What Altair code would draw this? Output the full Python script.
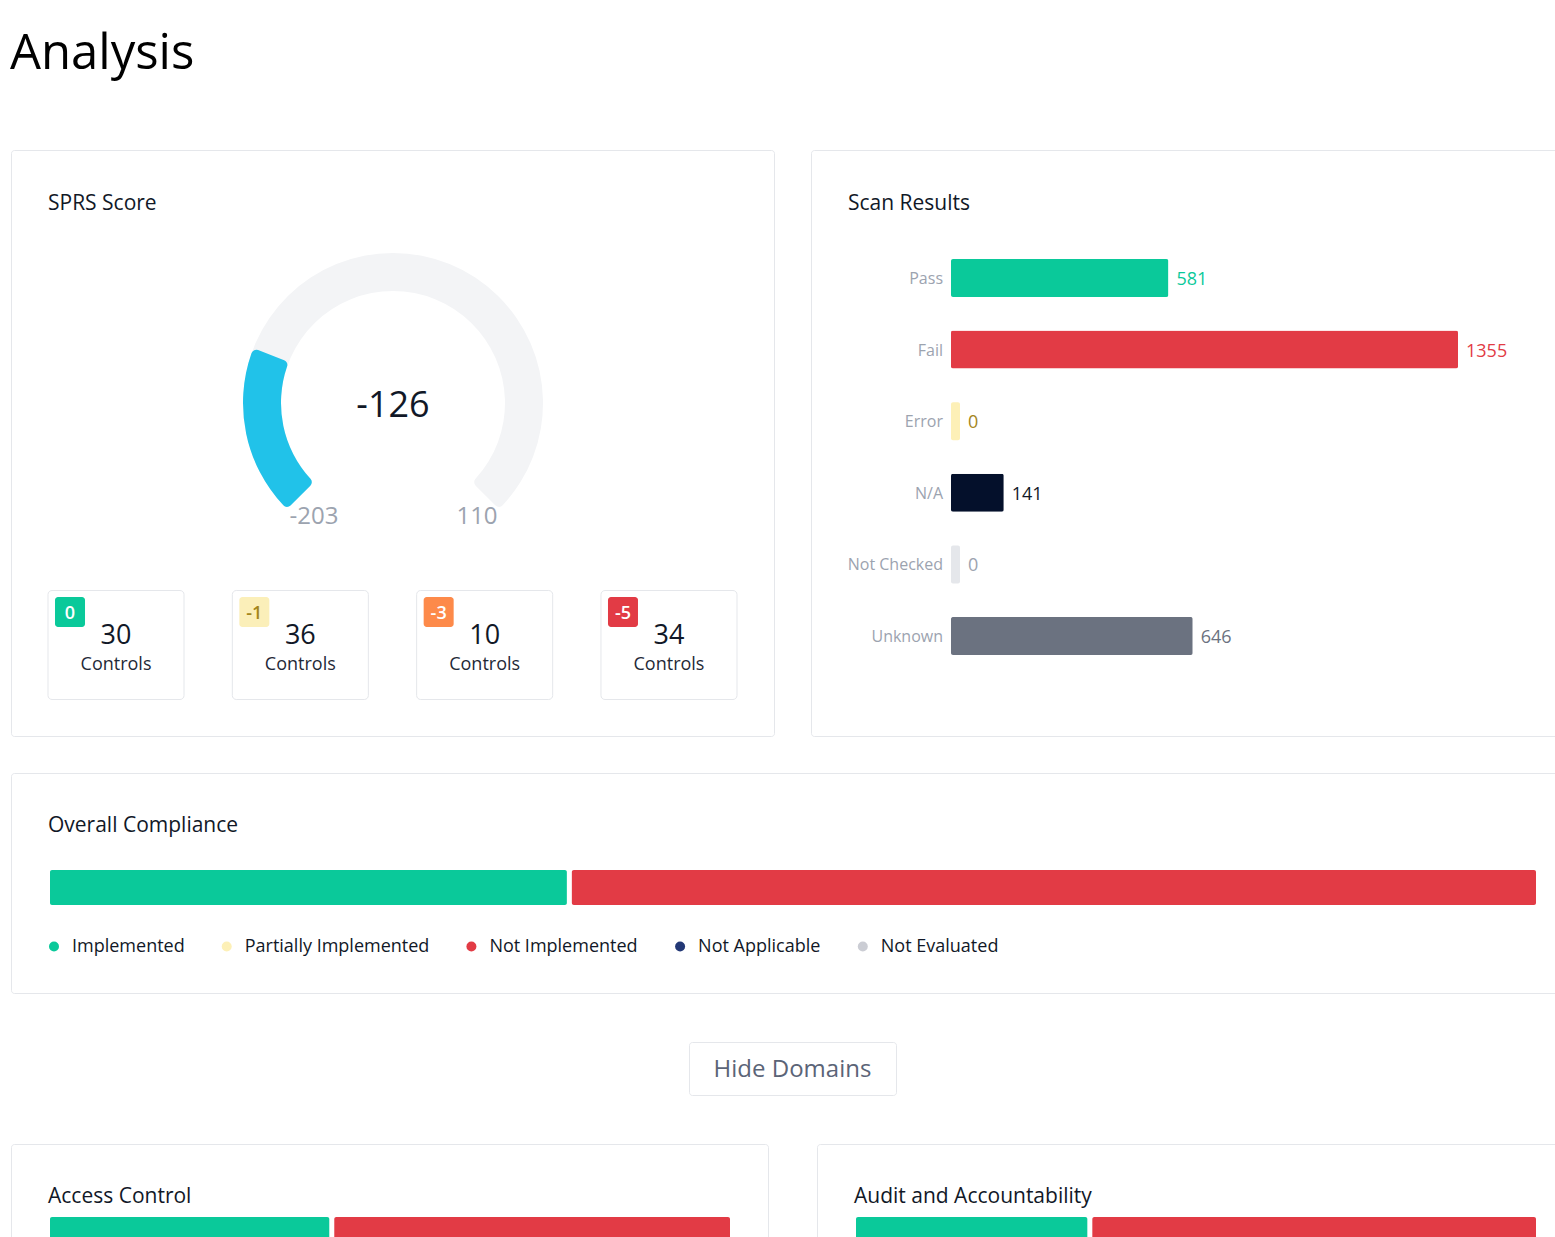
import altair as alt
import pandas as pd

FONT = "Open Sans"

# ---------------- data ----------------
page_title = ["Analysis"]
sprs_title = ["SPRS Score"]
scan_title = ["Scan Results"]
overall_title = ["Overall Compliance"]
access_title = ["Access Control"]
audit_title = ["Audit and Accountability"]
button_label = ["Hide Domains"]

gauge_min = -203
gauge_max = 110
sprs_score = -126

badges = ["0", "-1", "-3", "-5"]
control_counts = [30, 36, 10, 34]
control_unit = "Controls"

scan_categories = ["Pass", "Fail", "Error", "N/A", "Not Checked", "Unknown"]
scan_values = [581, 1355, 0, 141, 0, 646]

statuses = ["Implemented", "Partially Implemented", "Not Implemented", "Not Applicable", "Not Evaluated"]
bar_statuses = ["Implemented", "Not Implemented"]
overall_pct = [35, 65]
access_pct = [41.5, 58.5]
audit_pct = [34.5, 65.5]

# ---------------- styles ----------------
badge_fill = ["#0ac99a", "#fbefb9", "#fd8a4a", "#e23b45"]
scan_bar_colors = ["#0ac99a", "#e23b45", "#fdf0b7", "#04102b", "#e5e7eb", "#6b7280"]
scan_label_colors = ["#0ac99a", "#e23b45", "#a4861b", "#111827", "#9ca3af", "#6b7280"]
status_colors = ["#0ac99a", "#fdf0b7", "#e23b45", "#233876", "#cbcdd4"]
BORDER = "#e5e7eb"
W, H = 1555, 1237


def frame(name, x0, y0, x1, y1, radius=3):
    """Card outline (page layout box)."""
    return alt.Chart(pd.DataFrame({"card": [name]})).mark_rect(
        fill="white", stroke=BORDER, strokeWidth=1, cornerRadius=radius
    ).encode(x=alt.value(x0 + 0.5), x2=alt.value(x1 - 0.5), y=alt.value(y0 + 0.5), y2=alt.value(y1 - 0.5))


def label(texts, x, y, size=21, color="#111827", align="left", weight="normal"):
    return alt.Chart(pd.DataFrame({"t": texts})).mark_text(
        align=align, baseline="alphabetic", fontSize=size, color=color, font=FONT, fontWeight=weight
    ).encode(x=alt.value(x), y=alt.value(y), text="t:N")


layers = []

# ---------------- header ----------------
layers.append(label(page_title, 10, 69, size=49, color="#000000"))

# ---------------- SPRS card ----------------
layers.append(frame("sprs", 11, 150, 775, 737))
layers.append(label(sprs_title, 48, 210))

gauge_df = pd.DataFrame({
    "lo": [gauge_min], "hi": [gauge_max], "score": [sprs_score],
    "lo_txt": [str(gauge_min)], "hi_txt": [str(gauge_max)], "score_txt": [str(sprs_score)],
})
GX, GY = 393, 403
theta_scale = alt.Scale(domain=[gauge_min, gauge_max], range=[-2.35619, 2.35619], zero=False, nice=False)
layers.append(alt.Chart(gauge_df).mark_arc(outerRadius=150, innerRadius=112, cornerRadius=5, color="#f3f4f6").encode(
    theta=alt.Theta("lo:Q", scale=theta_scale), theta2="hi:Q", x=alt.value(GX), y=alt.value(GY)))
layers.append(alt.Chart(gauge_df).mark_arc(outerRadius=150, innerRadius=112, cornerRadius=5, color="#21c2e9").encode(
    theta=alt.Theta("lo:Q", scale=theta_scale), theta2="score:Q", x=alt.value(GX), y=alt.value(GY)))
layers.append(alt.Chart(gauge_df).mark_text(fontSize=24, color="#9ca3af", baseline="alphabetic", font=FONT).encode(
    x=alt.value(314), y=alt.value(524), text="lo_txt:N"))
layers.append(alt.Chart(gauge_df).mark_text(fontSize=24, color="#9ca3af", baseline="alphabetic", font=FONT).encode(
    x=alt.value(477), y=alt.value(524), text="hi_txt:N"))
layers.append(alt.Chart(gauge_df).mark_text(fontSize=36, color="#111827", baseline="alphabetic", font=FONT).encode(
    x=alt.value(393), y=alt.value(417), text="score_txt:N"))

ctrl_df = pd.DataFrame({
    "badge": badges,
    "count_txt": [str(c) for c in control_counts],
    "unit": [control_unit] * len(badges),
})
x_band = alt.X("badge:N", scale=alt.Scale(type="band", domain=badges, range=[48, 737], paddingInner=0.262, paddingOuter=0),
               axis=None)
layers.append(alt.Chart(ctrl_df).mark_rect(fill="white", stroke=BORDER, strokeWidth=1, cornerRadius=4).encode(
    x=x_band, y=alt.value(590.5), y2=alt.value(699.5)))
layers.append(alt.Chart(ctrl_df).mark_bar(width=30, xOffset=-46, cornerRadius=3).encode(
    x=x_band, y=alt.value(597), y2=alt.value(627),
    color=alt.Color("badge:N", scale=alt.Scale(domain=badges, range=badge_fill), legend=None)))
layers.append(alt.Chart(ctrl_df).mark_text(fontSize=18, fontWeight=600, xOffset=-46, baseline="alphabetic", font=FONT).encode(
    x=x_band, y=alt.value(619), text="badge:N",
    color=alt.condition(alt.datum.badge == "-1", alt.value("#a4861b"), alt.value("#ffffff"))))
layers.append(alt.Chart(ctrl_df).mark_text(fontSize=27, color="#111827", baseline="alphabetic", font=FONT).encode(
    x=x_band, y=alt.value(644), text="count_txt:N"))
layers.append(alt.Chart(ctrl_df).mark_text(fontSize=18, color="#1f2937", baseline="alphabetic", font=FONT).encode(
    x=x_band, y=alt.value(670), text="unit:N"))

# ---------------- Scan results card ----------------
layers.append(frame("scan", 811, 150, W + 30, 737))
layers.append(label(scan_title, 848, 210))

scan_df = pd.DataFrame({"cat": scan_categories, "value": scan_values, "value_txt": [str(v) for v in scan_values]})
y_band = alt.Y("cat:N", scale=alt.Scale(type="band", domain=scan_categories, range=[259, 655], paddingInner=0.469,
                                         paddingOuter=0), axis=None)
x_lin = alt.X("value:Q", scale=alt.Scale(domain=[0, 1355], range=[951, 1458], nice=False, zero=True), axis=None)
bar_color = alt.Color("cat:N", scale=alt.Scale(domain=scan_categories, range=scan_bar_colors), legend=None)
lbl_color = alt.Color("cat:N", scale=alt.Scale(domain=scan_categories, range=scan_label_colors), legend=None)

layers.append(alt.Chart(scan_df).transform_filter("datum.value == 0").mark_rect(x2Offset=9, cornerRadius=2).encode(
    x=x_lin, x2=alt.X2("value:Q"), y=y_band, color=bar_color))
layers.append(alt.Chart(scan_df).mark_bar(cornerRadius=2).encode(x=x_lin, y=y_band, color=bar_color))
layers.append(alt.Chart(scan_df).transform_filter("datum.value > 0").mark_text(
    align="left", baseline="middle", dx=8, dy=2, fontSize=18, font=FONT).encode(
    x=x_lin, y=y_band, text="value_txt:N", color=lbl_color))
layers.append(alt.Chart(scan_df).transform_filter("datum.value == 0").mark_text(
    align="left", baseline="middle", dx=17, dy=2, fontSize=18, font=FONT).encode(
    x=x_lin, y=y_band, text="value_txt:N", color=lbl_color))
layers.append(alt.Chart(scan_df).mark_text(align="right", baseline="middle", dy=1, fontSize=16, color="#9ca3af", font=FONT).encode(
    x=alt.value(943), y=y_band, text="cat:N"))


# ---------------- compliance bars ----------------
def compliance_bar(name, pcts, x_range, top, legend):
    df = pd.DataFrame({"status": bar_statuses, "pct": pcts, "idx": list(range(len(bar_statuses))),
                       "card": [name] * len(bar_statuses)})
    color = alt.Color("status:N", scale=alt.Scale(domain=statuses, range=status_colors), legend=legend)
    return alt.Chart(df).transform_stack(
        stack="pct", groupby=["card"], as_=["p0", "p1"], sort=[alt.SortField("idx", order="ascending")]
    ).mark_rect(xOffset=2.5, x2Offset=-2.5, cornerRadius=2).encode(
        x=alt.X("p0:Q", scale=alt.Scale(domain=[0, 100], range=x_range, nice=False, zero=True), axis=None),
        x2="p1:Q", y=alt.value(top), y2=alt.value(top + 35), color=color)


legend = alt.Legend(
    orient="none", legendX=45, legendY=937.5, direction="horizontal", columns=5, title=None,
    symbolType="circle", symbolSize=100, symbolStrokeWidth=0, labelFontSize=18, labelFont=FONT,
    labelColor="#111827", labelOffset=9, columnPadding=32.7, padding=0, labelLimit=0)

layers.append(frame("overall", 11, 773, W + 30, 994))
layers.append(label(overall_title, 48, 832))
layers.append(compliance_bar("overall", overall_pct, [47.5, 1538.5], 870, legend))

# ---------------- button ----------------
layers.append(frame("button", 689, 1042, 897, 1096))
layers.append(label(button_label, 792.5, 1077, size=24, color="#5b6477", align="center"))

# ---------------- domain cards ----------------
layers.append(frame("access", 11, 1144, 769, H + 30))
layers.append(label(access_title, 48, 1203))
layers.append(compliance_bar("access", access_pct, [47.5, 732.5], 1217, None))

layers.append(frame("audit", 817, 1144, W + 30, H + 30))
layers.append(label(audit_title, 854, 1203))
layers.append(compliance_bar("audit", audit_pct, [853.5, 1538.5], 1217, None))

chart = alt.layer(*layers).resolve_scale(
    x="independent", y="independent", color="independent", theta="independent"
).resolve_legend(color="independent").properties(
    width=W, height=H, padding=0, autosize=alt.AutoSizeParams(type="none"), background="white"
).configure(font=FONT).configure_view(stroke="transparent")

chart.save("out.html", embed_options={"renderer": "svg", "actions": False})
